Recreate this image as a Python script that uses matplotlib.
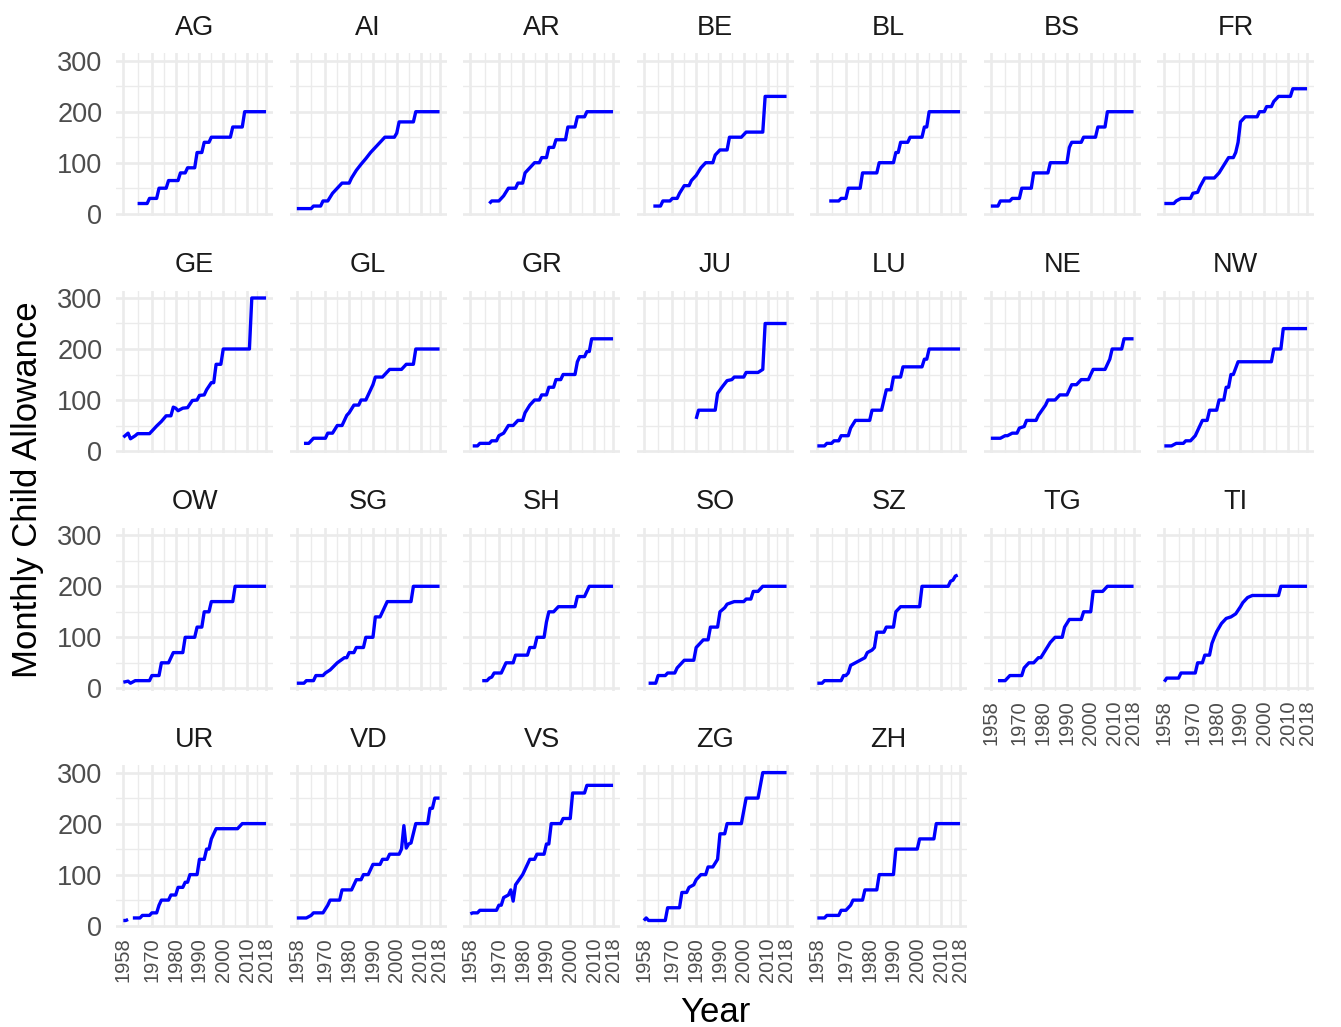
import numpy as np
import matplotlib
matplotlib.use("Agg")
import matplotlib.pyplot as plt
from matplotlib.ticker import FixedLocator

plt.rcParams['font.family'] = ['Liberation Sans', 'DejaVu Sans']

# Monthly child allowance (CHF) per canton: (year, amount) vertices of each series
cantons = ["AG", "AI", "AR", "BE", "BL", "BS", "FR",
           "GE", "GL", "GR", "JU", "LU", "NE", "NW",
           "OW", "SG", "SH", "SO", "SZ", "TG", "TI",
           "UR", "VD", "VS", "ZG", "ZH"]

AG = [(1964, 20), (1968, 20), (1969, 30), (1972, 30), (1973, 50), (1976, 50), (1977, 65), (1981, 65),
      (1982, 80), (1984, 80), (1985, 90), (1988, 90), (1989, 120), (1991, 120), (1992, 140), (1994, 140),
      (1995, 150), (2003, 150), (2004, 170), (2008, 170), (2009, 200), (2018, 200)]
AI = [(1958, 10), (1964, 10), (1965, 15), (1968, 15), (1969, 25), (1971, 25), (1973, 40), (1975, 50),
      (1977, 60), (1980, 60), (1981, 70), (1983, 85), (1985, 97), (1987, 108), (1989, 120), (1991, 130),
      (1993, 140), (1995, 150), (1999, 150), (2000, 158), (2001, 180), (2007, 180), (2008, 200), (2018, 200)]
AR = [(1966, 20), (1967, 25), (1970, 25), (1972, 35), (1974, 50), (1977, 50), (1978, 60), (1980, 60),
      (1981, 80), (1983, 90), (1985, 100), (1987, 100), (1988, 110), (1990, 110), (1991, 130), (1993, 130),
      (1994, 145), (1998, 145), (1999, 170), (2002, 170), (2003, 190), (2006, 190), (2007, 200), (2018, 200)]
BE = [(1962, 15), (1965, 15), (1966, 25), (1969, 25), (1970, 30), (1972, 30), (1973, 40), (1975, 55),
      (1977, 55), (1978, 65), (1980, 75), (1982, 90), (1984, 100), (1987, 100), (1988, 115), (1990, 125),
      (1993, 125), (1994, 150), (1999, 150), (2001, 160), (2008, 160), (2009, 230), (2018, 230)]
BL = [(1963, 25), (1967, 25), (1968, 30), (1970, 30), (1971, 50), (1976, 50), (1977, 80), (1983, 80),
      (1984, 100), (1990, 100), (1991, 120), (1992, 120), (1993, 140), (1996, 140), (1997, 150), (2002, 150),
      (2003, 170), (2004, 170), (2005, 200), (2018, 200)]
BS = [(1958, 15), (1961, 15), (1962, 25), (1966, 25), (1967, 30), (1970, 30), (1971, 50), (1975, 50),
      (1976, 80), (1982, 80), (1983, 100), (1990, 100), (1991, 130), (1992, 140), (1996, 140), (1997, 150),
      (2002, 150), (2003, 170), (2006, 170), (2007, 200), (2018, 200)]
FR = [(1958, 20), (1962, 20), (1963, 25), (1965, 30), (1969, 30), (1970, 40), (1972, 42), (1973, 53),
      (1975, 70), (1979, 70), (1980, 75), (1981, 80), (1983, 95), (1985, 110), (1987, 110), (1988, 120),
      (1989, 140), (1990, 180), (1992, 190), (1997, 190), (1998, 200), (2000, 200), (2001, 210), (2003, 210),
      (2004, 220), (2006, 230), (2011, 230), (2012, 245), (2018, 245)]
GE = [(1958, 27), (1960, 35), (1961, 24), (1962, 27), (1963, 30), (1964, 34), (1969, 34), (1970, 39),
      (1972, 49), (1974, 58), (1976, 69), (1978, 69), (1979, 86), (1980, 84), (1981, 79), (1983, 84),
      (1985, 85), (1987, 99), (1989, 100), (1990, 109), (1992, 110), (1993, 120), (1995, 134), (1996, 134),
      (1997, 170), (1999, 170), (2000, 200), (2011, 200), (2012, 300), (2018, 300)]
GL = [(1961, 15), (1963, 15), (1964, 20), (1965, 25), (1970, 25), (1971, 35), (1973, 35), (1975, 50),
      (1977, 50), (1979, 70), (1980, 75), (1982, 90), (1984, 90), (1985, 100), (1987, 100), (1988, 110),
      (1990, 130), (1991, 145), (1994, 145), (1995, 150), (1997, 160), (2002, 160), (2004, 170), (2007, 170),
      (2008, 200), (2018, 200)]
GR = [(1959, 10), (1961, 10), (1962, 15), (1966, 15), (1967, 20), (1969, 20), (1970, 30), (1972, 35),
      (1974, 50), (1976, 50), (1978, 60), (1980, 60), (1981, 75), (1983, 90), (1985, 100), (1987, 100),
      (1988, 110), (1990, 110), (1991, 125), (1993, 125), (1994, 140), (1996, 140), (1997, 150), (2002, 150),
      (2003, 175), (2004, 185), (2006, 185), (2007, 195), (2008, 195), (2009, 220), (2018, 220)]
JU = [(1980, 63), (1981, 80), (1988, 80), (1989, 113), (1991, 126), (1993, 138), (1995, 140), (1996, 145),
      (2000, 145), (2001, 154), (2006, 154), (2008, 160), (2009, 250), (2018, 250)]
LU = [(1958, 10), (1961, 10), (1962, 15), (1964, 15), (1965, 20), (1967, 20), (1968, 30), (1971, 30),
      (1972, 45), (1974, 60), (1980, 60), (1981, 80), (1985, 80), (1987, 120), (1989, 120), (1990, 145),
      (1993, 145), (1994, 165), (2002, 165), (2003, 180), (2004, 180), (2005, 200), (2018, 200)]
NE = [(1958, 25), (1962, 25), (1964, 30), (1965, 30), (1967, 35), (1969, 35), (1970, 45), (1972, 48),
      (1973, 60), (1977, 60), (1978, 70), (1981, 90), (1982, 100), (1985, 100), (1987, 110), (1990, 110),
      (1992, 130), (1994, 130), (1996, 140), (1999, 140), (2001, 160), (2006, 160), (2008, 180), (2009, 200),
      (2013, 200), (2014, 220), (2018, 220)]
NW = [(1958, 10), (1961, 10), (1963, 15), (1966, 15), (1967, 20), (1969, 20), (1971, 30), (1972, 40),
      (1973, 50), (1974, 60), (1976, 60), (1977, 80), (1980, 80), (1981, 100), (1983, 100), (1984, 125),
      (1985, 125), (1986, 150), (1987, 150), (1989, 175), (2003, 175), (2004, 200), (2007, 200), (2008, 240),
      (2018, 240)]
OW = [(1958, 12), (1960, 14), (1961, 10), (1963, 15), (1969, 15), (1970, 25), (1973, 25), (1974, 50),
      (1977, 50), (1978, 60), (1979, 70), (1983, 70), (1984, 100), (1988, 100), (1989, 120), (1991, 120),
      (1992, 150), (1994, 150), (1995, 170), (2004, 170), (2005, 200), (2018, 200)]
SG = [(1958, 10), (1961, 10), (1962, 15), (1965, 15), (1966, 25), (1969, 25), (1970, 30), (1972, 36),
      (1975, 50), (1978, 60), (1979, 60), (1980, 70), (1982, 70), (1983, 80), (1986, 80), (1987, 100),
      (1990, 100), (1991, 140), (1993, 140), (1994, 150), (1996, 170), (2006, 170), (2007, 200), (2018, 200)]
SH = [(1963, 15), (1965, 15), (1966, 20), (1967, 22), (1968, 30), (1971, 30), (1973, 50), (1976, 50),
      (1977, 65), (1982, 65), (1983, 80), (1985, 80), (1986, 100), (1989, 100), (1990, 130), (1991, 150),
      (1993, 150), (1995, 160), (2002, 160), (2003, 180), (2006, 180), (2008, 200), (2018, 200)]
SO = [(1960, 10), (1963, 10), (1964, 25), (1967, 25), (1968, 30), (1971, 30), (1972, 40), (1973, 45),
      (1975, 55), (1979, 55), (1980, 80), (1982, 90), (1983, 95), (1985, 95), (1986, 120), (1989, 120),
      (1990, 150), (1992, 158), (1993, 165), (1996, 170), (2000, 170), (2001, 175), (2003, 175), (2004, 190),
      (2006, 190), (2008, 200), (2018, 200)]
SZ = [(1958, 10), (1960, 10), (1961, 15), (1968, 15), (1969, 25), (1970, 25), (1971, 30), (1972, 45),
      (1974, 50), (1976, 55), (1978, 60), (1979, 70), (1981, 75), (1982, 80), (1983, 110), (1986, 110),
      (1987, 120), (1990, 120), (1991, 150), (1993, 160), (2001, 160), (2002, 200), (2013, 200), (2014, 210),
      (2015, 212), (2016, 220), (2017, 222)]
TG = [(1961, 15), (1964, 15), (1966, 25), (1971, 25), (1972, 40), (1974, 50), (1976, 50), (1978, 60),
      (1979, 60), (1981, 75), (1983, 90), (1985, 100), (1988, 100), (1989, 120), (1991, 135), (1996, 135),
      (1997, 150), (2000, 150), (2001, 190), (2005, 190), (2007, 200), (2018, 200)]
TI = [(1958, 13), (1959, 20), (1964, 20), (1965, 30), (1971, 30), (1972, 50), (1974, 50), (1975, 65),
      (1977, 65), (1978, 88), (1979, 100), (1980, 111), (1982, 127), (1984, 137), (1986, 140), (1988, 146),
      (1990, 160), (1991, 168), (1993, 178), (1995, 182), (2006, 182), (2007, 200), (2018, 200)]
UR = [(1958, 10), (1959, 10), (1960, 12), (1961, np.nan), (1962, 15), (1965, 15), (1966, 20), (1969, 20),
      (1970, 25), (1972, 25), (1973, 40), (1974, 50), (1977, 50), (1978, 60), (1980, 60), (1981, 75),
      (1983, 75), (1984, 85), (1985, 85), (1986, 100), (1989, 100), (1990, 130), (1992, 130), (1993, 150),
      (1994, 150), (1995, 170), (1997, 190), (2006, 190), (2008, 200), (2018, 200)]
VD = [(1958, 15), (1962, 15), (1964, 20), (1965, 25), (1969, 25), (1971, 40), (1972, 50), (1976, 50),
      (1977, 70), (1981, 70), (1982, 80), (1983, 90), (1985, 90), (1986, 100), (1988, 100), (1989, 110),
      (1990, 120), (1993, 120), (1994, 130), (1996, 130), (1997, 140), (2001, 140), (2002, 150), (2003, 196),
      (2004, 152), (2005, 160), (2006, 162), (2008, 200), (2013, 200), (2014, 230), (2015, 230), (2016, 250),
      (2018, 250)]
VS = [(1958, 23), (1959, 25), (1961, 25), (1962, 30), (1969, 30), (1970, 40), (1971, 40), (1972, 55),
      (1974, 60), (1975, 70), (1976, 48), (1977, 80), (1980, 100), (1982, 120), (1983, 130), (1985, 130),
      (1986, 140), (1989, 140), (1990, 160), (1991, 160), (1992, 200), (1996, 200), (1997, 210), (2000, 210),
      (2001, 260), (2006, 260), (2007, 275), (2018, 275)]
ZG = [(1958, 10), (1959, 15), (1960, 10), (1967, 10), (1968, 35), (1973, 35), (1974, 65), (1976, 65),
      (1977, 75), (1979, 80), (1980, 90), (1982, 100), (1984, 100), (1985, 115), (1987, 115), (1989, 130),
      (1990, 180), (1992, 180), (1993, 200), (1999, 200), (2001, 250), (2006, 250), (2008, 300), (2018, 300)]
ZH = [(1958, 15), (1961, 15), (1962, 20), (1967, 20), (1968, 30), (1970, 30), (1972, 40), (1973, 50),
      (1977, 50), (1978, 70), (1983, 70), (1984, 100), (1990, 100), (1991, 150), (2000, 150), (2001, 170),
      (2007, 170), (2008, 200), (2018, 200)]

series = dict(AG=AG, AI=AI, AR=AR, BE=BE, BL=BL, BS=BS, FR=FR, GE=GE, GL=GL, GR=GR, JU=JU, LU=LU,
              NE=NE, NW=NW, OW=OW, SG=SG, SH=SH, SO=SO, SZ=SZ, TG=TG, TI=TI, UR=UR, VD=VD, VS=VS,
              ZG=ZG, ZH=ZH)

x_major = [1958, 1970, 1980, 1990, 2000, 2010, 2018]
x_minor = [1964, 1975, 1985, 1995, 2005, 2014]
y_major = [0, 100, 200, 300]
y_minor = [50, 150, 250]

# shared limits with 5% padding on each side
all_vals = np.array([p[1] for s in series.values() for p in s], dtype=float)
x_lo, x_hi = 1958, 2018
y_lo, y_hi = np.nanmin(all_vals), np.nanmax(all_vals)
x_pad = 0.05 * (x_hi - x_lo)
y_pad = 0.05 * (y_hi - y_lo)

W, H = 1341, 1027
fig = plt.figure(figsize=(W / 100, H / 100), dpi=100)
fig.patch.set_facecolor("white")

ncol = 7
PW, PH = 157.0, 162.7
X0, DX = 116.2, 173.5
Y0, DY = 53.3, 237.3
GRID = "#EBEBEB"
TXT = "#4D4D4D"

n = len(cantons)
for i, name in enumerate(cantons):
    r, c = divmod(i, ncol)
    left = X0 + c * DX
    top = Y0 + r * DY
    ax = fig.add_axes([left / W, 1 - (top + PH) / H, PW / W, PH / H])
    ax.set_facecolor("white")
    pts = series[name]
    yrs = [p[0] for p in pts]
    vals = [p[1] for p in pts]
    ax.plot(yrs, vals, color="#0000FF", lw=2.4, solid_capstyle="butt", zorder=3)

    ax.set_xlim(x_lo - x_pad, x_hi + x_pad)
    ax.set_ylim(y_lo - y_pad, y_hi + y_pad)
    ax.xaxis.set_major_locator(FixedLocator(x_major))
    ax.xaxis.set_minor_locator(FixedLocator(x_minor))
    ax.yaxis.set_major_locator(FixedLocator(y_major))
    ax.yaxis.set_minor_locator(FixedLocator(y_minor))
    ax.grid(which="major", color=GRID, lw=1.9, zorder=0)
    ax.grid(which="minor", color=GRID, lw=1.0, zorder=0)
    ax.set_axisbelow(True)
    for sp in ax.spines.values():
        sp.set_visible(False)

    ax.tick_params(which="both", length=0)
    ax.tick_params(axis="y", labelsize=19.5, labelcolor=TXT, pad=10)
    ax.tick_params(axis="x", labelsize=14.5, labelcolor=TXT, pad=7, labelrotation=90)
    if c != 0:
        ax.tick_params(axis="y", labelleft=False)
    if i + ncol < n:
        ax.tick_params(axis="x", labelbottom=False)

    ax.annotate(name, xy=(0.5, 1), xycoords="axes fraction", xytext=(0, 18.5),
                textcoords="offset points", ha="center", va="center",
                fontsize=19.5, color="#1A1A1A")

fig.text(28 / W, 1 - 490 / H, "Monthly Child Allowance", rotation=90,
         ha="center", va="center", fontsize=25, color="black")
fig.text(715 / W, 1 - 1013 / H, "Year", ha="center", va="center",
         fontsize=25, color="black")

fig.savefig("out.png", dpi=100, facecolor="white")
